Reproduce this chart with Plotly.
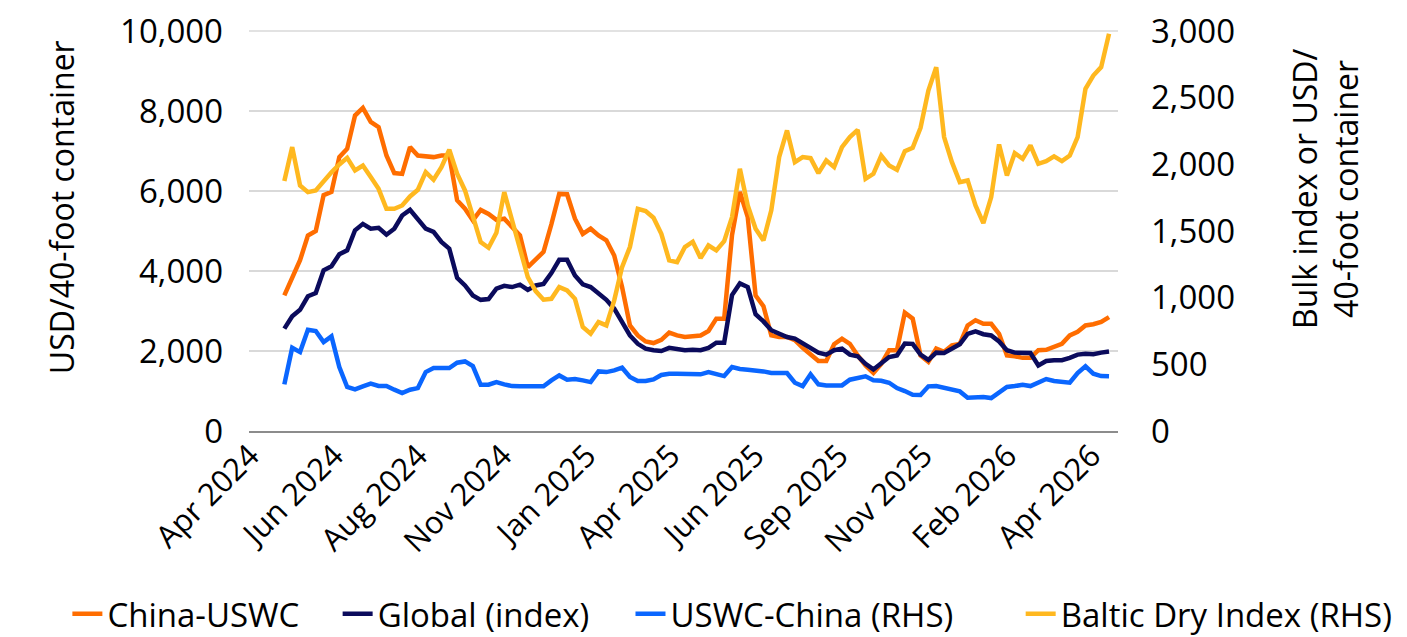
import plotly.graph_objs as go
import pandas as pd

# weekly observations, first week ending late April 2024
dates = pd.date_range("2024-04-28", periods=106, freq="7D")

china_uswc = [3390, 3850, 4270, 4890, 5000, 5900, 5980, 6850, 7060, 7890,
              8080, 7730, 7600, 6890, 6450, 6430, 7100, 6890, 6870, 6850,
              6890, 6890, 5770, 5560, 5270, 5530, 5430, 5280, 5310, 5100,
              4890, 4100, 4310, 4480, 5170, 5930, 5920, 5310, 4930, 5060,
              4890, 4770, 4390, 3600, 2640, 2390, 2240, 2200, 2280, 2460,
              2390, 2350, 2370, 2390, 2500, 2810, 2810, 4900, 5980, 5350,
              3390, 3120, 2390, 2350, 2350, 2270, 2080, 1920, 1750, 1750,
              2170, 2310, 2180, 1890, 1640, 1450, 1680, 2020, 2020, 2960,
              2810, 1890, 1730, 2060, 1980, 2140, 2180, 2640, 2770, 2680,
              2680, 2430, 1890, 1870, 1830, 1830, 2020, 2030, 2100, 2180,
              2390, 2480, 2640, 2670, 2730, 2850]

global_index = [2560, 2870, 3030, 3370, 3450, 4020, 4120, 4420, 4520, 5020,
                5180, 5060, 5080, 4910, 5060, 5390, 5530, 5310, 5060, 4980,
                4730, 4560, 3830, 3640, 3390, 3280, 3300, 3560, 3630, 3600,
                3660, 3530, 3640, 3680, 3950, 4280, 4280, 3890, 3670, 3600,
                3430, 3280, 3060, 2730, 2390, 2180, 2060, 2020, 2000, 2080,
                2050, 2020, 2030, 2020, 2080, 2210, 2210, 3400, 3690, 3600,
                2920, 2740, 2520, 2430, 2350, 2310, 2200, 2100, 1960, 1910,
                2020, 2060, 1910, 1870, 1680, 1540, 1680, 1850, 1890, 2190,
                2180, 1910, 1780, 1960, 1950, 2070, 2170, 2430, 2490, 2420,
                2390, 2240, 2020, 1960, 1960, 1950, 1640, 1750, 1770, 1770,
                1830, 1910, 1930, 1920, 1960, 1990]

uswc_china = [350, 625, 592, 760, 750, 667, 710, 480, 330, 312,
              335, 355, 338, 338, 310, 285, 310, 322, 442, 472,
              472, 472, 512, 522, 487, 347, 347, 367, 350, 337,
              335, 335, 335, 335, 380, 417, 385, 390, 380, 367,
              447, 442, 455, 475, 405, 375, 375, 387, 420, 430,
              430, 430, 427, 425, 442, 430, 412, 480, 465, 460,
              455, 447, 435, 435, 435, 362, 337, 425, 350, 342,
              342, 342, 385, 400, 410, 380, 377, 362, 322, 300,
              272, 270, 335, 337, 322, 305, 297, 250, 255, 255,
              247, 292, 330, 337, 347, 337, 362, 390, 375, 372,
              362, 435, 485, 430, 412, 410]

baltic_dry = [1875, 2130, 1842, 1792, 1805, 1880, 1942, 2000, 2050, 1955,
              1992, 1905, 1817, 1667, 1667, 1692, 1760, 1810, 1942, 1885,
              1980, 2110, 1930, 1805, 1605, 1417, 1375, 1487, 1792, 1580,
              1355, 1155, 1050, 985, 992, 1080, 1055, 992, 780, 730,
              817, 792, 980, 1230, 1380, 1667, 1650, 1600, 1480, 1280,
              1267, 1380, 1420, 1297, 1392, 1355, 1425, 1605, 1967, 1692,
              1517, 1430, 1655, 2055, 2255, 2017, 2055, 2047, 1935, 2030,
              1980, 2130, 2205, 2260, 1892, 1930, 2067, 1992, 1960, 2100,
              2125, 2275, 2555, 2730, 2205, 2017, 1867, 1880, 1692, 1560,
              1755, 2150, 1917, 2085, 2042, 2142, 2005, 2025, 2060, 2025,
              2067, 2205, 2567, 2667, 2730, 2980]

tick_dates = pd.date_range("2024-03-28 12:00", periods=11, freq="75D")
tick_labels = ["Apr 2024", "Jun 2024", "Aug 2024", "Nov 2024", "Jan 2025",
               "Apr 2025", "Jun 2025", "Sep 2025", "Nov 2025", "Feb 2026",
               "Apr 2026"]

left_ticks = [0, 2000, 4000, 6000, 8000, 10000]
right_ticks = [0, 500, 1000, 1500, 2000, 2500, 3000]

FONT = "Open Sans"

series = [
    ("China-USWC", china_uswc, "y", "#ff6d00", "legend", -0.209),
    ("Global (index)", global_index, "y", "#0b0b5c", "legend2", 0.102),
    ("USWC-China (RHS)", uswc_china, "y2", "#0a66ff", "legend3", 0.439),
    ("Baltic Dry Index (RHS)", baltic_dry, "y2", "#ffb81f", "legend4", 0.888),
]

fig = go.Figure()
for name, vals, yax, col, leg, _ in series:
    fig.add_trace(go.Scatter(x=dates, y=vals, name=name, mode="lines", yaxis=yax,
                             legend=leg, line=dict(color=col, width=4.5)))

# one legend per entry so they can sit on one row below the chart
for name, vals, yax, col, leg, lx in series:
    fig.update_layout({leg: dict(orientation="h", x=lx, xanchor="left",
                                 y=0.049, yanchor="middle", yref="container",
                                 font=dict(size=33), bgcolor="rgba(0,0,0,0)")})

# top gridline sits on the plot edge, plotly clips it, so draw it
fig.add_shape(type="line", xref="paper", yref="paper", x0=0, x1=1,
              y0=1, y1=1, line=dict(color="#d9d9d9", width=1.5), layer="between")

# page body adds an 8px offset, margins are trimmed for it
fig.update_layout(
    width=1407, height=637,
    margin=dict(l=241, r=297, t=23, b=214, autoexpand=False),
    paper_bgcolor="white", plot_bgcolor="white",
    font=dict(family=FONT, size=33, color="black"),
    showlegend=True,
    xaxis=dict(
        type="date", automargin=False,
        range=["2024-03-27 12:00", "2026-05-11"],
        tickmode="array", tickvals=tick_dates, ticktext=tick_labels,
        tickangle=-45, showgrid=False, zeroline=False, ticklabelstandoff=-8,
        showline=True, linecolor="#8c8c8c", linewidth=2, ticks="",
        ticklabeloverflow="allow", tickfont=dict(size=31),
    ),
    yaxis=dict(
        range=[0, 10004], tickvals=left_ticks,
        tickformat=",", showgrid=True, automargin=False,
        gridcolor="#d9d9d9", gridwidth=1.5, zeroline=False, ticks="",
        ticklabelstandoff=25, ticklabeloverflow="allow",
    ),
    yaxis2=dict(
        range=[0, 3001.2], tickvals=right_ticks,
        tickformat=",", overlaying="y", side="right",
        showgrid=False, zeroline=False, ticks="", ticklabelstandoff=32, automargin=False,
        ticklabeloverflow="allow",
    ),
)

fig.add_annotation(text="USD/40-foot container", xref="paper", yref="paper",
                   x=-0.215, y=0.56, textangle=-90, showarrow=False,
                   xanchor="center", yanchor="middle", font=dict(size=32))
fig.add_annotation(text="Bulk index or USD/<br>40-foot container", xref="paper", yref="paper",
                   x=1.238, y=0.607, textangle=-90, showarrow=False,
                   xanchor="center", yanchor="middle", font=dict(size=32))

fig.write_html("out.html")
